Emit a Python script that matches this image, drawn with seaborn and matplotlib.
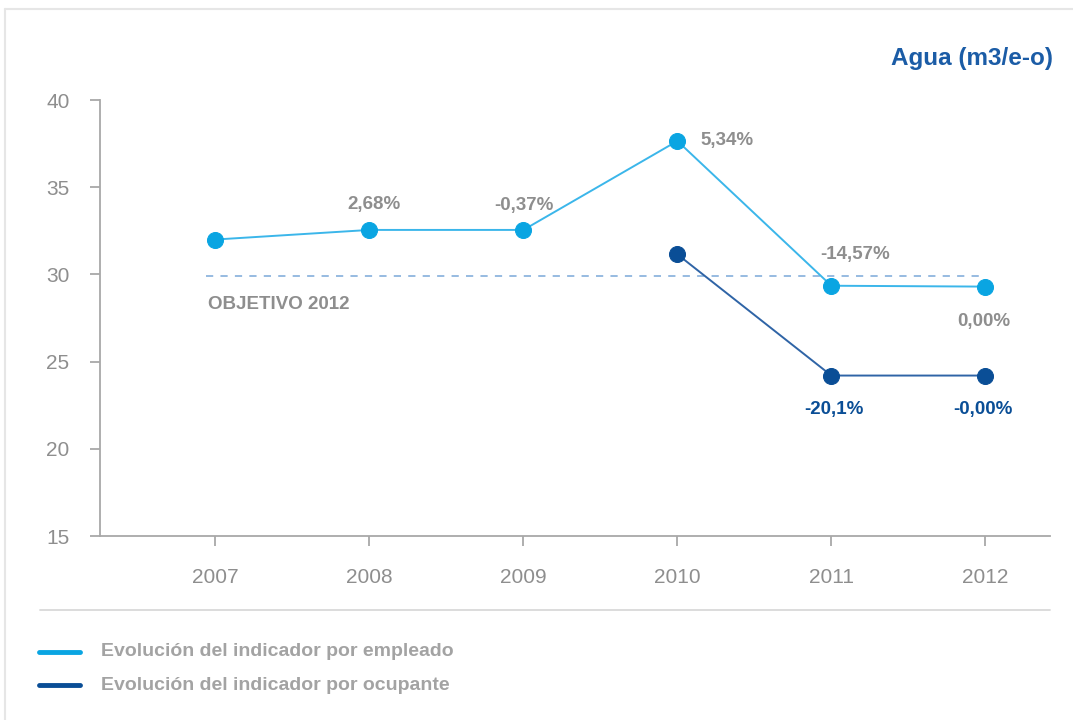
import numpy as np
import pandas as pd
import seaborn as sns
import matplotlib.pyplot as plt
from matplotlib.lines import Line2D

years = [2007, 2008, 2009, 2010, 2011, 2012]
empleado = [32.0, 32.55, 32.55, 37.65, 29.35, 29.3]
ocupante_years = [2010, 2011, 2012]
ocupante = [31.15, 24.2, 24.2]
objetivo = 29.9
labels_emp = ["", "2,68%", "-0,37%", "5,34%", "-14,57%", "0,00%"]
labels_ocu = ["", "-20,1%", "-0,00%"]

c_light = "#0aa5e2"
c_dark = "#0a4e96"
c_gray = "#8e8e8e"
c_title = "#1b5ca6"

sns.set_style("white")
plt.rcParams["font.family"] = ["Liberation Sans", "DejaVu Sans"]

fig = plt.figure(figsize=(10.73, 7.2), dpi=100)
ax = fig.add_axes([100 / 1073, 1 - 536 / 720, 950 / 1073, 436 / 720])

df_emp = pd.DataFrame({"year": years, "valor": empleado})
df_ocu = pd.DataFrame({"year": ocupante_years, "valor": ocupante})

ax.plot([2006.94, 2012], [objetivo, objetivo], ls=(0, (4, 4)), color="#8fb5de", lw=1.3)

sns.lineplot(data=df_emp, x="year", y="valor", ax=ax, color="#3bb6ea", lw=1.4,
             marker="o", markersize=11.5, markerfacecolor=c_light, markeredgecolor=c_light)
sns.lineplot(data=df_ocu, x="year", y="valor", ax=ax, color="#2f64a6", lw=1.4,
             marker="o", markersize=11.5, markerfacecolor=c_dark, markeredgecolor=c_dark)

# percent labels
offs_emp = [(0, 0), (5, 25), (1, 24), (23, 0), (24, 31), (-2, -35)]
for yr, v, lab, (dx, dy) in zip(years, empleado, labels_emp, offs_emp):
    if not lab:
        continue
    ha = "left" if yr == 2010 else "center"
    ax.annotate(lab, (yr, v), xytext=(dx, dy), textcoords="offset pixels",
                ha=ha, va="center", fontsize=13.5, fontweight="bold", color=c_gray)
offs_ocu = [(0, 0), (3, -34), (-2, -34)]
for yr, v, lab, (dx, dy) in zip(ocupante_years, ocupante, labels_ocu, offs_ocu):
    if not lab:
        continue
    ax.annotate(lab, (yr, v), xytext=(dx, dy), textcoords="offset pixels",
                ha="center", va="center", fontsize=13.5, fontweight="bold", color=c_dark)

ax.annotate("OBJETIVO 2012", (2007, objetivo), xytext=(-7, -28), textcoords="offset pixels",
            ha="left", va="center", fontsize=13.5, fontweight="bold", color=c_gray)

ax.set_xlim(2006.25, 2012.42)
ax.set_ylim(15, 40)
ax.set_xticks(years)
ax.set_yticks([15, 20, 25, 30, 35, 40])
ax.set_xlabel("")
ax.set_ylabel("")
sns.despine(ax=ax)
for s in ["left", "bottom"]:
    ax.spines[s].set_color("#a8a8a8")
    ax.spines[s].set_linewidth(1.3)
ax.tick_params(axis="both", bottom=True, left=True, colors="#a8a8a8", labelcolor=c_gray,
               labelsize=15, length=7, width=1.3)
ax.tick_params(axis="x", pad=16)
ax.tick_params(axis="y", pad=15)

fig.text(1053 / 1073, 1 - 58 / 720, "Agua (m3/e-o)", ha="right", va="center",
         fontsize=17.5, fontweight="bold", color=c_title)

# frame lines, separator and legend
fig.add_artist(Line2D([5 / 1073, 1], [1 - 9 / 720, 1 - 9 / 720], color="#e6e6e6", lw=1.5))
fig.add_artist(Line2D([5 / 1073, 5 / 1073], [0, 1 - 9 / 720], color="#e6e6e6", lw=1.5))
fig.add_artist(Line2D([40 / 1073, 1050 / 1073], [1 - 610 / 720, 1 - 610 / 720], color="#d9d9d9", lw=1.3))

legend_items = [("Evolución del indicador por empleado", c_light, 652),
                ("Evolución del indicador por ocupante", c_dark, 685)]
for txt, col, ypx in legend_items:
    yy = 1 - ypx / 720
    fig.add_artist(Line2D([39 / 1073, 80 / 1073], [yy, yy], color=col, lw=3.5))
    fig.text(101 / 1073, yy, txt, ha="left", va="center", fontsize=14,
             fontweight="bold", color="#a3a3a3")

fig.savefig("out.png", dpi=100)
